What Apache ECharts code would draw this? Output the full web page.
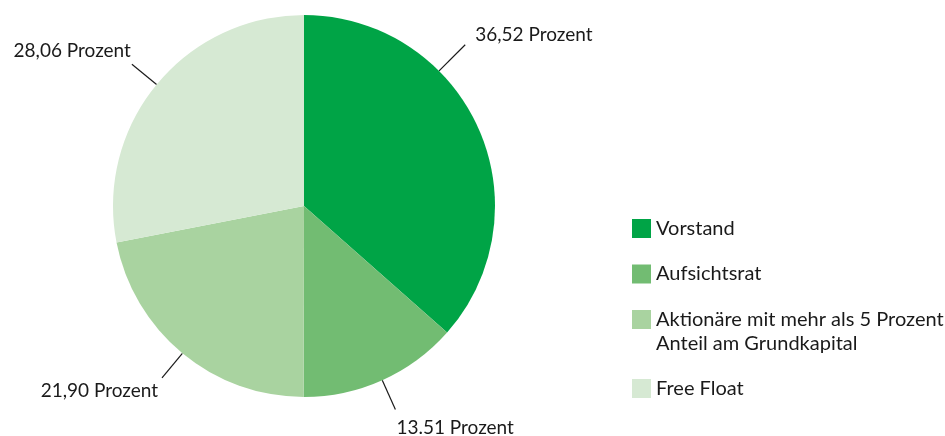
<!DOCTYPE html>
<html>
<head>
<meta charset="utf-8">
<script src="https://cdn.jsdelivr.net/npm/echarts@6/dist/echarts.min.js"></script>
<style>
  html, body { margin: 0; padding: 0; background: #fff; }
  #chart { width: 945px; height: 436px; }
</style>
</head>
<body>
<div id="chart"></div>
<script>
// data
const categories = ["Vorstand", "Aufsichtsrat", "Aktionäre mit mehr als 5 Prozent Anteil am Grundkapital", "Free Float"]
const shares = [36.52, 13.51, 21.90, 28.06]
const labelTexts = ["36,52 Prozent", "13.51 Prozent", "21,90 Prozent", "28,06 Prozent"]
const colors = ["#00a446", "#72bc72", "#a9d3a0", "#d6e9d3"]

// layout of pie + labels
const cx = 304, cy = 206, R = 191
const lineAngle = [45, null, null, null] // override of label line angle (deg from 12 o'clock)
const lineLen = [37, 32, 32, 32]
const labelShift = [[10, -10, "left"], [1, 18, "left"], [-4, 13, "right"], [-1, -13, "right"]]

const total = shares.reduce((a, b) => a + b, 0)
const midAngles = []
let acc = 0
shares.forEach((v) => {
  midAngles.push(((acc + v / 2) / total) * 360)
  acc += v
})

const chart = echarts.init(document.getElementById("chart"))
const font = "Lato"

// the 2-line item gets a blank first line so the square sits next to line one
const legendTops = [216.5, 262, 283.5, 376.5]
const legends = categories.map((name, i) => ({
  data: [name],
  left: 632,
  top: legendTops[i],
  orient: "vertical",
  padding: 0,
  icon: "rect",
  itemWidth: 19,
  itemHeight: 19,
  selectedMode: false,
  formatter: (n) => (i === 2 ? " \nAktionäre mit mehr als 5 Prozent\nAnteil am Grundkapital" : n),
  textStyle: {
    fontFamily: font,
    fontSize: 20,
    color: "#1a1a1a",
    lineHeight: 24,
  },
}))

const option = {
  animation: false,
  color: colors,
  legend: legends,
  series: [
    {
      type: "pie",
      center: [cx, cy],
      radius: R,
      startAngle: 90,
      clockwise: true,
      silent: true,
      data: categories.map((name, i) => ({ name, value: shares[i] })),
      label: {
        show: true,
        position: "outside",
        formatter: (p) => labelTexts[p.dataIndex],
        fontFamily: font,
        fontSize: 19,
        color: "#1a1a1a",
        overflow: "none",
        width: 200,
      },
      labelLine: {
        show: true,
        length: 32,
        length2: 0,
        lineStyle: { color: "#1a1a1a", width: 1.2 },
      },
      labelLayout: (p) => {
        const i = p.dataIndex
        const a = ((lineAngle[i] != null ? lineAngle[i] : midAngles[i]) * Math.PI) / 180
        const dx = Math.sin(a), dy = -Math.cos(a)
        const start = [cx + R * dx, cy + R * dy]
        const end = [cx + (R + lineLen[i]) * dx, cy + (R + lineLen[i]) * dy]
        const s = labelShift[i]
        return {
          x: end[0] + s[0],
          y: end[1] + s[1],
          align: s[2],
          verticalAlign: "middle",
          labelLinePoints: [start, end, end],
        }
      },
    },
  ],
}

chart.setOption(option)
</script>
</body>
</html>
